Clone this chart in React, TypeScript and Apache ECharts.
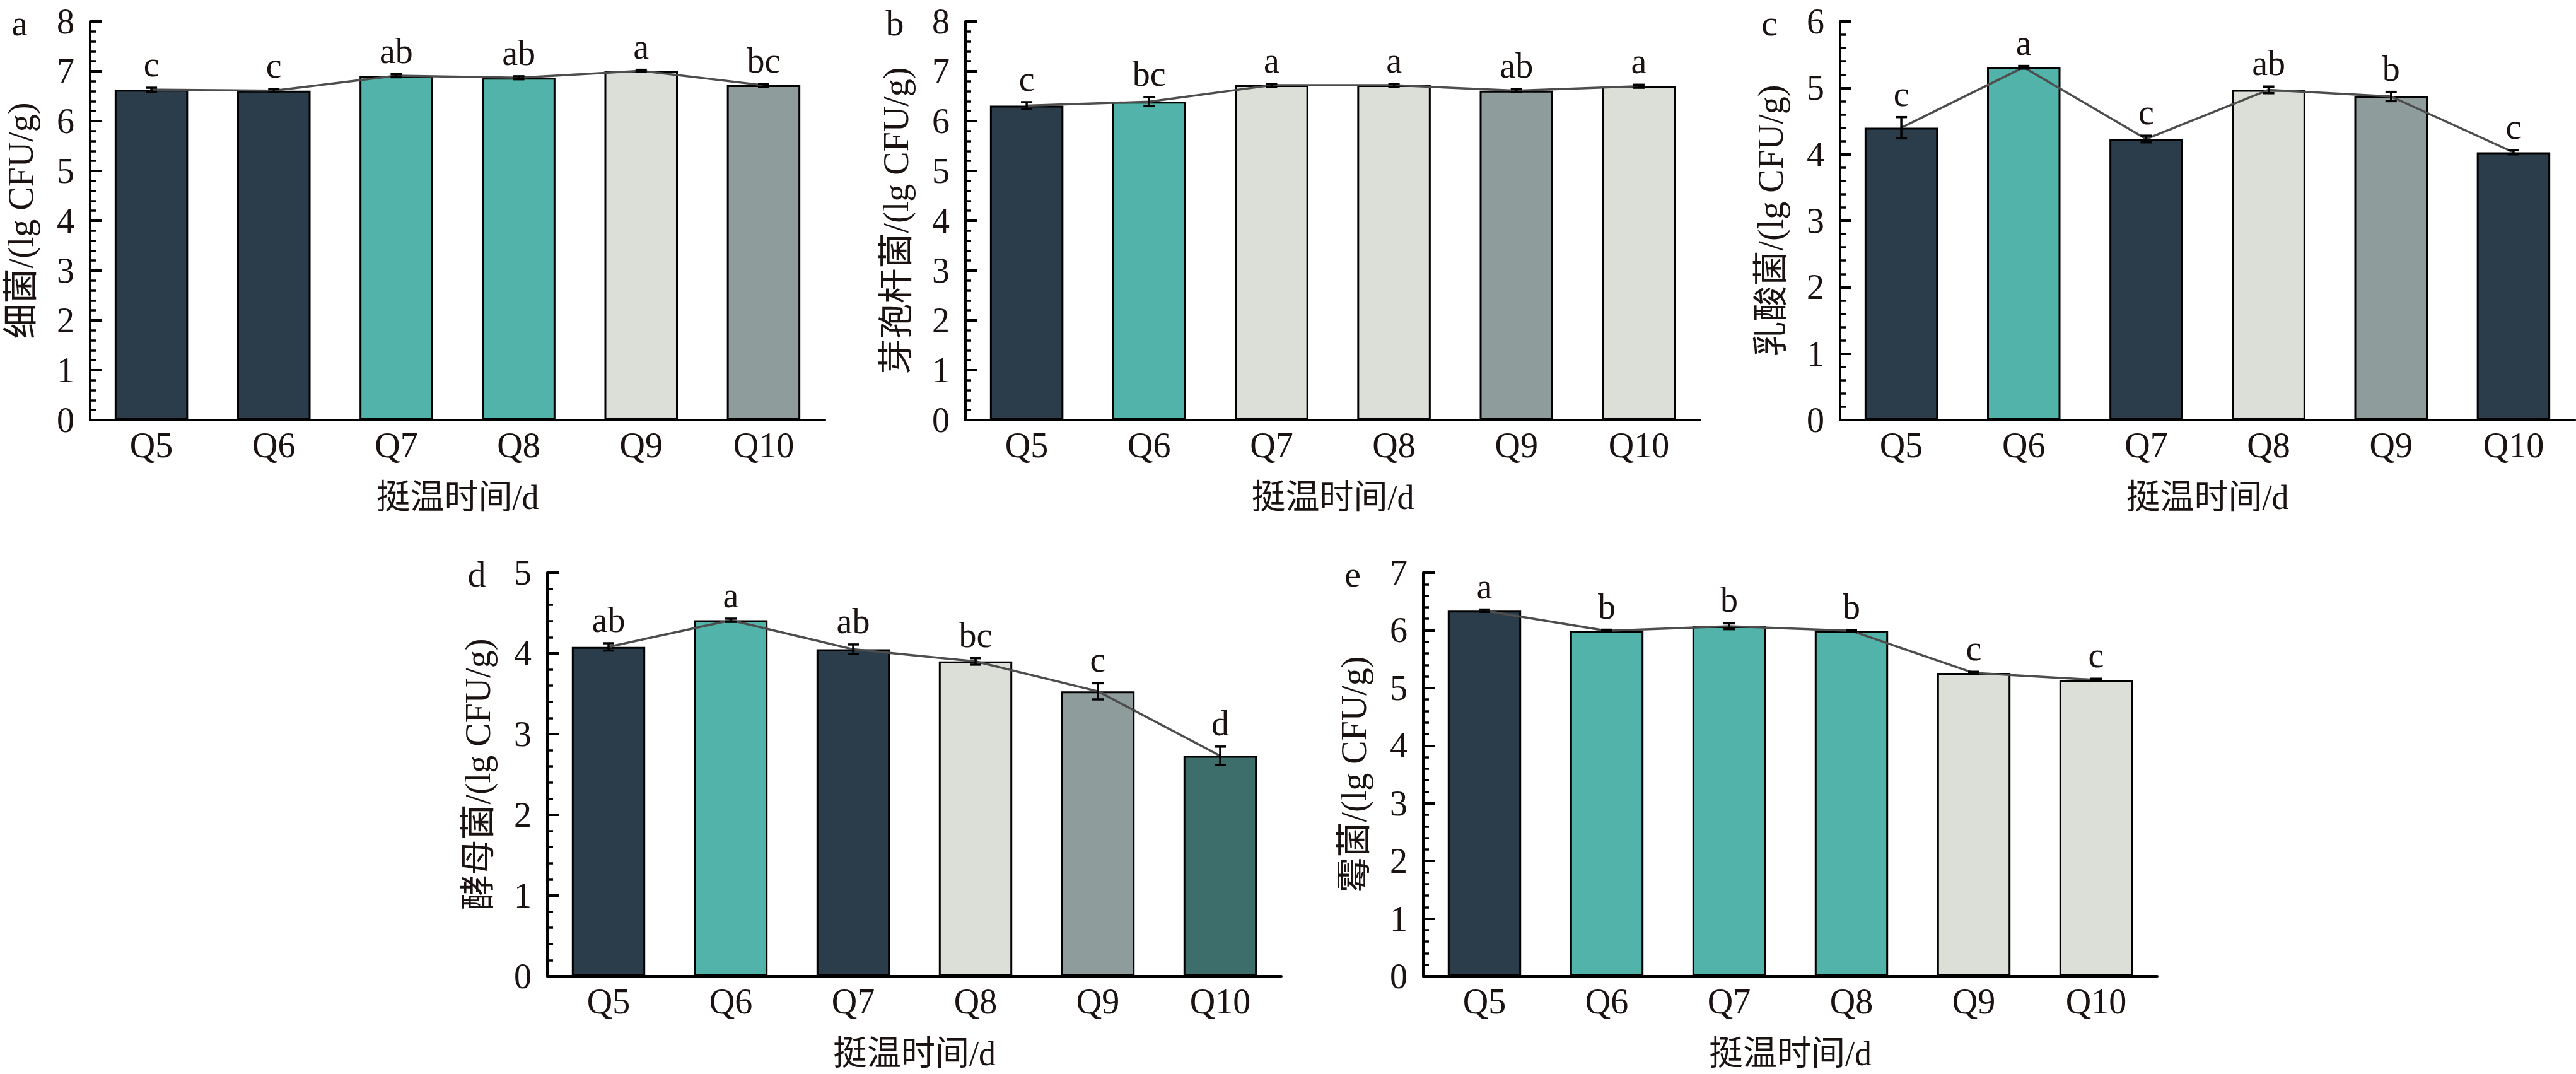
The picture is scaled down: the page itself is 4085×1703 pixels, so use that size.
import React, { useEffect, useRef } from "react";
import * as echarts from "echarts";

const categories = ["Q5", "Q6", "Q7", "Q8", "Q9", "Q10"];

const bacteriaMean = [6.63, 6.61, 6.91, 6.87, 7.01, 6.72];
const bacteriaErr = [0.04, 0.03, 0.03, 0.03, 0.02, 0.03];
const bacteriaSig = ["c", "c", "ab", "ab", "a", "bc"];
const bacteriaColors = ["navy", "navy", "teal", "teal", "light", "gray"];

const bacillusMean = [6.31, 6.39, 6.72, 6.72, 6.61, 6.7];
const bacillusErr = [0.07, 0.09, 0.03, 0.03, 0.03, 0.03];
const bacillusSig = ["c", "bc", "a", "a", "ab", "a"];
const bacillusColors = ["navy", "teal", "light", "light", "gray", "light"];

const labMean = [4.4, 5.31, 4.23, 4.97, 4.87, 4.03];
const labErr = [0.16, 0.02, 0.05, 0.05, 0.07, 0.03];
const labSig = ["c", "a", "c", "ab", "b", "c"];
const labColors = ["navy", "teal", "navy", "light", "gray", "navy"];

const yeastMean = [4.08, 4.41, 4.05, 3.9, 3.53, 2.73];
const yeastErr = [0.045, 0.02, 0.06, 0.04, 0.1, 0.115];
const yeastSig = ["ab", "a", "ab", "bc", "c", "d"];
const yeastColors = ["navy", "teal", "navy", "light", "gray", "darkteal"];

const moldMean = [6.34, 5.99, 6.07, 5.99, 5.26, 5.14];
const moldErr = [0.02, 0.02, 0.05, 0.01, 0.02, 0.02];
const moldSig = ["a", "b", "b", "b", "c", "c"];
const moldColors = ["navy", "teal", "teal", "teal", "light", "light"];

const yMax = [8, 8, 6, 5, 7];
const panelLetters = ["a", "b", "c", "d", "e"];
const yNames = [
  "细菌/(lg CFU/g)",
  "芽孢杆菌/(lg CFU/g)",
  "乳酸菌/(lg CFU/g)",
  "酵母菌/(lg CFU/g)",
  "霉菌/(lg CFU/g)",
];
const xName = "挺温时间/d";

const palette: Record<string, string> = {
  navy: "#2b3d4b",
  teal: "#51b3a9",
  light: "#dbdfd8",
  gray: "#8e9c9b",
  darkteal: "#3d6e6b",
};

const grids = [
  { left: 143, top: 34, width: 1165, height: 632 },
  { left: 1531, top: 34, width: 1165, height: 632 },
  { left: 2918, top: 34, width: 1165, height: 632 },
  { left: 868, top: 908, width: 1164, height: 640 },
  { left: 2257, top: 908, width: 1164, height: 640 },
];

const FONT = "'Liberation Serif', 'Times New Roman', 'Noto Sans CJK SC', serif";
const TXT = "#1a1311";

export default function App() {
  const ref = useRef<HTMLDivElement>(null);
  useEffect(() => {
    document.body.style.margin = "0";
    if (!ref.current) return;
    const chart = echarts.init(ref.current, null, { renderer: "svg" });
    const panels = [
      { mean: bacteriaMean, err: bacteriaErr, sig: bacteriaSig, colors: bacteriaColors },
      { mean: bacillusMean, err: bacillusErr, sig: bacillusSig, colors: bacillusColors },
      { mean: labMean, err: labErr, sig: labSig, colors: labColors },
      { mean: yeastMean, err: yeastErr, sig: yeastSig, colors: yeastColors },
      { mean: moldMean, err: moldErr, sig: moldSig, colors: moldColors },
    ];

    const xAxis: any[] = [];
    const yAxis: any[] = [];
    const series: any[] = [];
    const graphic: any[] = [];

    panels.forEach((p, i) => {
      xAxis.push({
        type: "category",
        gridIndex: i,
        data: categories,
        boundaryGap: true,
        name: xName,
        nameLocation: "middle",
        nameGap: 98,
        nameTextStyle: { fontFamily: FONT, fontSize: 54, color: TXT, lineHeight: 50 },
        axisLine: { show: true, lineStyle: { color: "#000", width: 4 } },
        axisTick: {
          show: true,
          inside: true,
          alignWithLabel: true,
          length: 12,
          lineStyle: { color: "#000", width: 4 },
        },
        axisLabel: { fontFamily: FONT, fontSize: 56, color: TXT, margin: 12 },
        splitLine: { show: false },
      });
      yAxis.push({
        type: "value",
        gridIndex: i,
        min: 0,
        max: yMax[i],
        interval: 1,
        name: yNames[i],
        nameLocation: "middle",
        nameRotate: 90,
        nameGap: 82,
        nameTextStyle: { fontFamily: FONT, fontSize: 56, color: TXT },
        axisLine: { show: true, lineStyle: { color: "#000", width: 4 } },
        axisTick: { show: true, inside: true, length: 18, lineStyle: { color: "#000", width: 4 } },
        minorTick: { show: true, splitNumber: 5, length: 9, lineStyle: { color: "#000", width: 3.5 } },
        axisLabel: { fontFamily: FONT, fontSize: 56, color: TXT, margin: 25, lineHeight: 40 },
        splitLine: { show: false },
      });
      series.push({
        type: "bar",
        xAxisIndex: i,
        yAxisIndex: i,
        barWidth: "60%",
        data: p.mean.map((v, k) => ({
          value: v,
          itemStyle: { color: palette[p.colors[k]], borderColor: "#000", borderWidth: 3 },
        })),
        z: 2,
      });
      series.push({
        type: "line",
        xAxisIndex: i,
        yAxisIndex: i,
        data: p.mean,
        symbol: "none",
        lineStyle: { color: "#4d4d4d", width: 3.5 },
        z: 3,
      });
      series.push({
        type: "custom",
        xAxisIndex: i,
        yAxisIndex: i,
        z: 4,
        data: p.mean.map((v, k) => [k, v, p.err[k]]),
        encode: { x: 0, y: 1 },
        renderItem: (params: any, api: any) => {
          const k = api.value(0);
          const v = api.value(1);
          const e = api.value(2);
          const top = api.coord([k, v + e]);
          const bot = api.coord([k, v - e]);
          const hw = 9;
          const st = { stroke: "#000", lineWidth: 3.5 };
          return {
            type: "group",
            children: [
              { type: "line", shape: { x1: top[0], y1: top[1], x2: bot[0], y2: bot[1] }, style: st },
              { type: "line", shape: { x1: top[0] - hw, y1: top[1], x2: top[0] + hw, y2: top[1] }, style: st },
              { type: "line", shape: { x1: bot[0] - hw, y1: bot[1], x2: bot[0] + hw, y2: bot[1] }, style: st },
              {
                type: "text",
                x: top[0],
                y: top[1] - 37,
                style: {
                  text: p.sig[params.dataIndex],
                  fontFamily: FONT,
                  fontSize: 56,
                  fill: TXT,
                  align: "center",
                  verticalAlign: "middle",
                },
              },
            ],
          };
        },
      });
      graphic.push({
        type: "text",
        x: grids[i].left - 112,
        y: grids[i].top + 2,
        style: {
          text: panelLetters[i],
          fontFamily: FONT,
          fontSize: 58,
          lineHeight: 40,
          fill: TXT,
          align: "center",
          verticalAlign: "middle",
        },
      });
    });

    chart.setOption({
      animation: false,
      backgroundColor: "#ffffff",
      grid: grids.map((g) => ({ ...g, containLabel: false })),
      xAxis,
      yAxis,
      series,
      graphic,
    });
    return () => chart.dispose();
  }, []);
  return <div ref={ref} style={{ width: 4085, height: 1703 }} />;
}
